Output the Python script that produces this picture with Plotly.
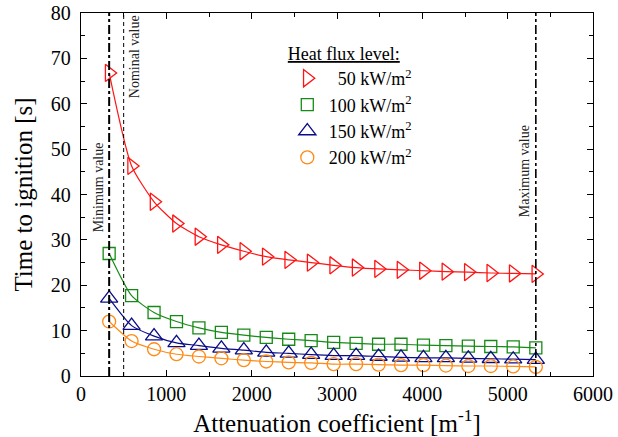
import plotly.graph_objects as go

# ---- data ----
attenuation = [330, 593, 856, 1119, 1382, 1645, 1908, 2171, 2434, 2697,
               2961, 3224, 3487, 3750, 4013, 4276, 4539, 4802, 5065, 5330]

t_50 = [66.8, 46.3, 38.4, 33.6, 30.7, 28.9, 27.5, 26.3, 25.6, 25.0,
        24.4, 23.9, 23.6, 23.4, 23.2, 23.0, 22.9, 22.7, 22.6, 22.5]
t_100 = [27.0, 17.7, 14.0, 12.0, 10.6, 9.6, 9.0, 8.5, 8.1, 7.8,
         7.4, 7.2, 7.0, 7.0, 6.8, 6.7, 6.6, 6.5, 6.4, 6.2]
t_150 = [17.1, 11.1, 8.8, 7.3, 6.7, 6.1, 5.7, 5.2, 5.0, 4.7,
         4.5, 4.5, 4.3, 4.1, 4.0, 4.0, 3.9, 3.8, 3.7, 3.6]
t_200 = [12.0, 7.7, 5.9, 4.8, 4.3, 3.9, 3.5, 3.2, 3.0, 2.9,
         2.6, 2.6, 2.5, 2.4, 2.4, 2.3, 2.2, 2.2, 2.1, 2.0]

series_names = ["\u00a0\u00a050 kW/m<sup>2</sup>", "100 kW/m<sup>2</sup>",
                "150 kW/m<sup>2</sup>", "200 kW/m<sup>2</sup>"]

ref_min = 330
ref_nominal = 500
ref_max = 5330
ref_labels = ["Minimum value", "Nominal value", "Maximum value"]

x_ticks = [0, 1000, 2000, 3000, 4000, 5000, 6000]
y_ticks = [0, 10, 20, 30, 40, 50, 60, 70, 80]

FONT = "Liberation Serif"

fig = go.Figure()

styles = [
    (t_50, "triangle-right-open", "#ff1414", 15),
    (t_100, "square-open", "#168a16", 12),
    (t_150, "triangle-up-open", "#0c0c88", 15),
    (t_200, "circle-open", "#ff8a14", 13),
]
for (vals, sym, col, sz), name in zip(styles, series_names):
    fig.add_trace(go.Scatter(
        x=attenuation, y=vals, name=name, mode="lines+markers",
        line=dict(color=col, width=1.2, shape="spline", smoothing=0.6),
        marker=dict(symbol=sym, size=sz, color=col, line=dict(color=col, width=1.3)),
        showlegend=False,
    ))
# legend entries: markers only (as in the reference legend)
for (vals, sym, col, sz), name in zip(styles, series_names):
    fig.add_trace(go.Scatter(
        x=[None], y=[None], name=name, mode="markers",
        marker=dict(symbol=sym, size=sz, color=col, line=dict(color=col, width=1.3)),
        showlegend=True,
    ))

# reference lines
fig.add_shape(type="line", xref="x", yref="y", x0=ref_min, x1=ref_min, y0=0, y1=80,
              line=dict(color="black", width=2, dash="dashdot"))
fig.add_shape(type="line", xref="x", yref="y", x0=ref_nominal, x1=ref_nominal, y0=0, y1=80,
              line=dict(color="black", width=1, dash="4px,3px"))
fig.add_shape(type="line", xref="x", yref="y", x0=ref_max, x1=ref_max, y0=0, y1=80,
              line=dict(color="black", width=1.6, dash="dashdot"))

fig.add_annotation(x=ref_min, y=41.5, xref="x", yref="y", text=ref_labels[0],
                   textangle=-90, showarrow=False, xanchor="right", xshift=-1,
                   font=dict(family=FONT, size=14, color="#222"))
fig.add_annotation(x=ref_nominal, y=70.3, xref="x", yref="y", text=ref_labels[1],
                   textangle=-90, showarrow=False, xanchor="left", xshift=1,
                   font=dict(family=FONT, size=14, color="#222"))
fig.add_annotation(x=ref_max, y=45.2, xref="x", yref="y", text=ref_labels[2],
                   textangle=-90, showarrow=False, xanchor="right", xshift=-1,
                   font=dict(family=FONT, size=14, color="#222"))

axis_common = dict(
    showgrid=False, zeroline=False, showline=True, linecolor="black", linewidth=1.3,
    mirror="allticks", ticks="inside", ticklen=6, tickwidth=1, tickcolor="black",
    tickfont=dict(family=FONT, size=20, color="black"), automargin=False,
)

fig.update_xaxes(range=[0, 6000], tickvals=x_ticks,
                 minor=dict(dtick=500, ticks="inside", ticklen=4, tickcolor="black"),
                 title=dict(text="Attenuation coefficient [m<sup>-1</sup>]",
                            font=dict(family=FONT, size=25, color="black"), standoff=0),
                 **axis_common)
fig.update_yaxes(range=[0, 80], tickvals=y_ticks, ticklabelstandoff=5,
                 minor=dict(dtick=5, ticks="inside", ticklen=4, tickcolor="black"),
                 title=dict(text="Time to ignition [s]",
                            font=dict(family=FONT, size=25, color="black"), standoff=11),
                 **axis_common)

fig.update_layout(
    width=618, height=437,
    margin=dict(l=81, r=25, t=13, b=61, autoexpand=False),
    plot_bgcolor="white", paper_bgcolor="white",
    font=dict(family=FONT, color="black"),
    showlegend=True,
    legend=dict(
        x=0.40, y=0.935, xanchor="left", yanchor="top",
        bgcolor="rgba(0,0,0,0)",
        title=dict(text="<u>Heat flux level:</u>", font=dict(family=FONT, size=18)),
        font=dict(family=FONT, size=18, color="black"),
        tracegroupgap=0, itemwidth=33,
    ),
)

fig.write_html("out.html", config={"displayModeBar": False},
               post_script="document.body.style.margin='0';document.body.style.overflow='hidden';")
